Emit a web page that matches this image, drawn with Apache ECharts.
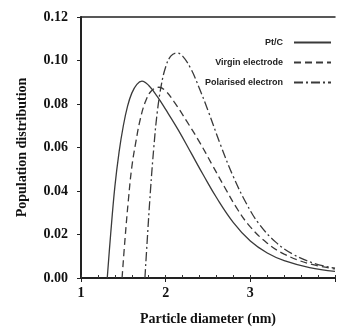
<!DOCTYPE html>
<html><head><meta charset="utf-8">
<script src="https://cdn.jsdelivr.net/npm/echarts@6/dist/echarts.min.js"></script>
<style>html,body{margin:0;padding:0;background:#fff}#c{width:338px;height:331px}</style>
</head><body><div id="c"></div>
<script>
const seriesNames = ['Pt/C', 'Virgin electrode', 'Polarised electron'];
const ptcX = [1.31, 1.35, 1.40, 1.45, 1.50, 1.55, 1.60, 1.66, 1.72, 1.80, 1.90, 2.00, 2.15, 2.30, 2.45, 2.60, 2.80, 3.00, 3.20, 3.40, 3.70, 4.00];
const ptcY = [0, 0.020, 0.042, 0.058, 0.070, 0.079, 0.085, 0.089, 0.0905, 0.0885, 0.0835, 0.0775, 0.068, 0.0575, 0.047, 0.037, 0.0255, 0.017, 0.0115, 0.008, 0.0048, 0.003];
const virX = [1.485, 1.52, 1.56, 1.60, 1.65, 1.70, 1.76, 1.83, 1.92, 2.00, 2.10, 2.25, 2.40, 2.55, 2.70, 2.85, 3.00, 3.20, 3.40, 3.70, 4.00];
const virY = [0, 0.018, 0.036, 0.051, 0.063, 0.073, 0.081, 0.086, 0.0877, 0.086, 0.081, 0.072, 0.0625, 0.052, 0.0415, 0.0315, 0.0235, 0.016, 0.011, 0.0065, 0.0042];
const polX = [1.755, 1.78, 1.82, 1.86, 1.90, 1.95, 2.00, 2.06, 2.13, 2.20, 2.30, 2.40, 2.50, 2.65, 2.80, 2.95, 3.10, 3.30, 3.50, 3.75, 4.00];
const polY = [0, 0.016, 0.040, 0.060, 0.076, 0.089, 0.097, 0.102, 0.1035, 0.102, 0.096, 0.087, 0.077, 0.061, 0.0465, 0.0345, 0.025, 0.0165, 0.011, 0.0068, 0.0045];
const xTicks = [1, 2, 3, 4];
const yTicks = [0, 0.02, 0.04, 0.06, 0.08, 0.10, 0.12];

const zip = (xs, ys) => xs.map((x, i) => [x, ys[i]]);
const serif = 'Liberation Serif';
const lineColor = '#3a3a3a';
const dashes = ['solid', [7, 4], [9, 3, 2, 3]];
const datas = [zip(ptcX, ptcY), zip(virX, virY), zip(polX, polY)];

const chart = echarts.init(document.getElementById('c'), null, {renderer: 'canvas'});
chart.setOption({
  animation: false,
  grid: {left: 81, right: 0, top: 17, bottom: 48},
  legend: {
    orient: 'vertical', right: 1, top: 33, align: 'right',
    itemWidth: 37, itemHeight: 10, itemGap: 11,
    data: seriesNames,
    itemStyle: {opacity: 0},
    textStyle: {fontFamily: 'Liberation Sans', fontSize: 9, fontWeight: 'bold', color: '#222', padding: [0, 6, 0, 0]}
  },
  xAxis: [{
    type: 'value', min: xTicks[0], max: xTicks[xTicks.length - 1], interval: 1,
    name: 'Particle diameter (nm)', nameLocation: 'middle', nameGap: 34,
    nameTextStyle: {fontFamily: serif, fontSize: 14, fontWeight: 'bold', color: '#111'},
    axisLine: {lineStyle: {color: '#222', width: 2}},
    axisTick: {length: 4, lineStyle: {color: '#222', width: 1}},
    axisLabel: {fontFamily: serif, fontSize: 14, fontWeight: 'bold', color: '#111', margin: 8,
      formatter: v => (xTicks.includes(v) && v < 4) ? String(v) : ''},
    splitLine: {show: false}
  }, {
    type: 'value', min: 1, max: 4, interval: 0.2, position: 'bottom',
    axisLine: {show: false},
    axisTick: {inside: true, length: 3, lineStyle: {color: '#333', width: 1}},
    axisLabel: {show: false}, splitLine: {show: false}
  }, {
    type: 'value', min: 1, max: 4, position: 'top',
    axisLine: {lineStyle: {color: '#222', width: 1.5}},
    axisTick: {show: false}, axisLabel: {show: false}, splitLine: {show: false}
  }],
  yAxis: {
    type: 'value', min: yTicks[0], max: yTicks[yTicks.length - 1], interval: 0.02,
    name: 'Population distribution', nameLocation: 'middle', nameGap: 52,
    nameTextStyle: {fontFamily: serif, fontSize: 14, fontWeight: 'bold', color: '#111'},
    axisLine: {show: true, lineStyle: {color: '#222', width: 2}},
    axisTick: {show: true, length: 4, lineStyle: {color: '#222', width: 1}},
    axisLabel: {fontFamily: serif, fontSize: 14, fontWeight: 'bold', color: '#111', margin: 13,
      formatter: v => v.toFixed(2)},
    splitLine: {show: false}
  },
  series: seriesNames.map((n, i) => ({
    name: n, type: 'line', xAxisIndex: 0, data: datas[i],
    symbol: 'none', smooth: 0.4,
    lineStyle: {color: lineColor, width: 1.3, type: dashes[i]},
    itemStyle: {color: lineColor}
  }))
});
</script></body></html>
